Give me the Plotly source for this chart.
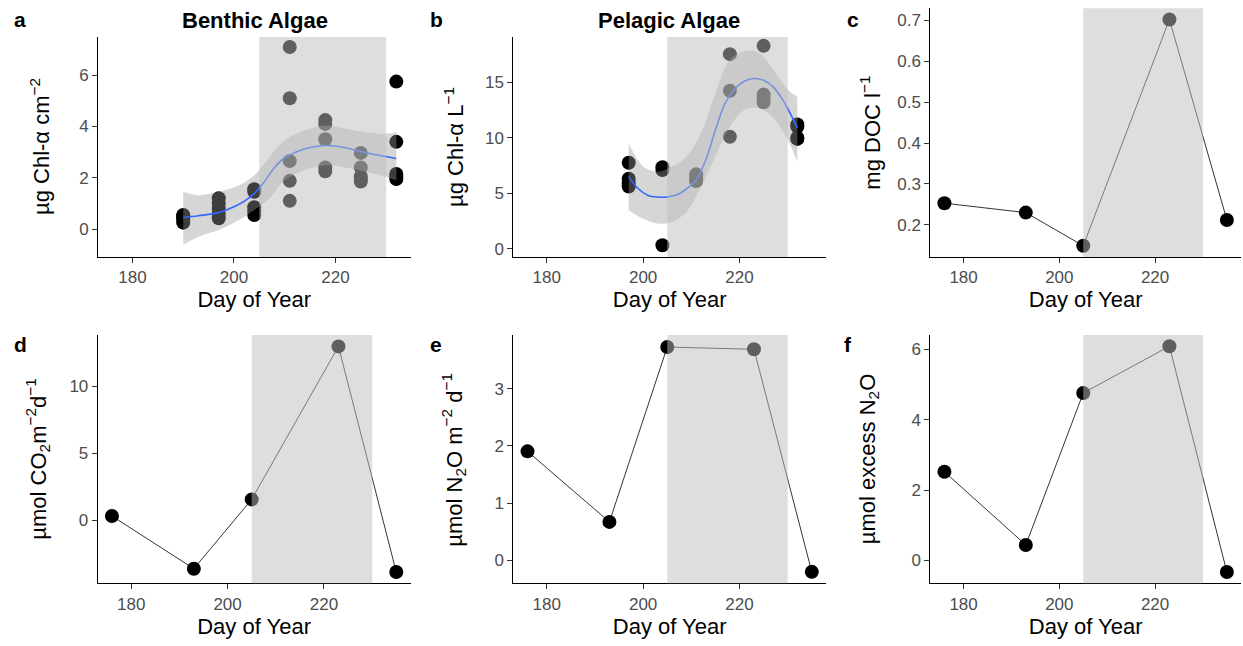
import plotly.graph_objects as go

# ---- Panel a: benthic algae chlorophyll (5 replicates per sampling day)
benthic_doy = [190] * 5 + [197] * 5 + [204] * 5 + [211] * 5 + [218] * 5 + [225] * 5 + [232] * 5
benthic_chla = [0.25, 0.35, 0.45, 0.50, 0.55,
                0.42, 0.60, 0.80, 1.00, 1.20,
                1.55, 1.45, 0.85, 0.70, 0.55,
                7.10, 5.10, 2.65, 1.88, 1.10,
                4.25, 4.10, 3.50, 2.40, 2.25,
                2.97, 2.40, 2.05, 1.95, 1.85,
                5.75, 3.40, 2.15, 2.05, 1.95]

# loess fit and 95% band for benthic algae
benthic_fit_doy = [190, 193, 197, 200, 202, 204, 206, 208, 210, 212, 214, 218, 222, 225, 228, 232]
benthic_fit = [0.45, 0.52, 0.64, 0.87, 1.08, 1.38, 1.85, 2.40, 2.78, 2.98, 3.13, 3.26, 3.17, 3.02, 2.90, 2.75]
benthic_band_doy = [190, 193, 197, 201, 204, 207, 210, 214, 218, 222, 226, 230, 232]
benthic_upper = [1.45, 1.32, 1.45, 1.71, 2.10, 2.81, 3.46, 3.85, 4.04, 3.91, 3.78, 3.72, 3.78]
benthic_lower = [-0.62, -0.30, -0.04, 0.35, 0.74, 1.19, 1.90, 2.29, 2.49, 2.40, 2.23, 2.03, 1.90]

# ---- Panel b: pelagic algae chlorophyll
pelagic_doy = [197] * 4 + [204] * 3 + [211] * 3 + [218] * 3 + [225] * 4 + [232] * 4
pelagic_chla = [7.75, 6.30, 5.90, 5.60,
                7.35, 7.10, 0.30,
                6.70, 6.30, 6.10,
                17.55, 14.25, 10.10,
                18.30, 13.90, 13.50, 13.20,
                11.20, 11.00, 10.00, 9.90]

pelagic_fit_doy = [197, 199, 201, 203, 205, 207, 209, 211, 213, 215, 217, 219, 221, 223, 225, 227, 229, 231, 232]
pelagic_fit = [6.50, 5.40, 4.80, 4.65, 4.65, 4.85, 5.40, 6.20, 8.00, 10.70, 13.10, 14.40, 15.10, 15.35, 15.20, 14.60, 13.40, 11.80, 10.90]
pelagic_band_doy = [197, 200, 203, 206, 209, 212, 215, 218, 221, 224, 227, 230, 232]
pelagic_upper = [9.50, 7.40, 6.94, 7.40, 8.30, 10.40, 14.00, 17.06, 17.80, 17.66, 16.15, 14.34, 13.70]
pelagic_lower = [3.47, 2.70, 2.26, 2.40, 3.30, 5.58, 8.30, 11.00, 12.50, 12.70, 11.80, 9.80, 7.85]

# ---- Panels c-f: single measurements per sampling day
site_doy = [176, 193, 205, 223, 235]
doc = [0.253, 0.230, 0.149, 0.702, 0.212]
co2_flux = [0.33, -3.60, 1.57, 12.99, -3.85]
n2o_flux = [1.906, 0.673, 3.73, 3.69, -0.20]
n2o_excess = [2.52, 0.44, 4.76, 6.09, -0.33]

# bloom period highlighted in every panel
bloom_start, bloom_end = 205, 230

x_ticks = [180, 200, 220]

W, H = 1243, 646
FONT = "Arial, Liberation Sans, sans-serif"


def xdom(left, right):
    return [left / W, right / W]


def ydom(top, bottom):
    return [1 - bottom / H, 1 - top / H]


panels = [
    # key, x-domain px, y-domain px, x-range, y-range, y ticks, y title, title right edge px, letter
    ("", (98, 410.5), (37, 257), [173.2, 234.8], [-1.09, 7.49], [0, 2, 4, 6],
     "µg Chl-α cm<sup>−2</sup>", 55, "a"),
    ("2", (513.3, 826), (37, 257), [173.05, 237.95], [-0.76, 19.1], [0, 5, 10, 15],
     "µg Chl-α L<sup>−1</sup>", 469, "b"),
    ("3", (930.3, 1241), (8.3, 257), [173.05, 237.95], [0.1215, 0.7295],
     [0.2, 0.3, 0.4, 0.5, 0.6, 0.7], "mg DOC l<sup>−1</sup>", 885, "c"),
    ("4", (97.7, 410.5), (335, 583.3), [173.05, 237.95], [-4.69, 13.84], [0, 5, 10],
     "µmol CO<sub>2</sub>m<sup>−2</sup>d<sup>−1</sup>", 54, "d"),
    ("5", (513.3, 826), (335, 583.3), [173.05, 237.95], [-0.40, 3.94], [0, 1, 2, 3],
     "µmol N<sub>2</sub>O m<sup>−2</sup> d<sup>−1</sup>", 470, "e"),
    ("6", (930.3, 1241), (335, 583.3), [173.05, 237.95], [-0.65, 6.41], [0, 2, 4, 6],
     "µmol excess N<sub>2</sub>O", 884, "f"),
]

letter_pos = {"a": (12, 6), "b": (428, 6), "c": (845, 6),
              "d": (12, 331), "e": (428, 331), "f": (842, 331)}

fig = go.Figure()


def add_smooth(xa, ya, pts_x, pts_y, band_x, lo, hi, fit_x, fit_y):
    fig.add_trace(go.Scatter(x=pts_x, y=pts_y, mode="markers", xaxis=xa, yaxis=ya,
                             marker=dict(size=14, color="black", line=dict(width=0))))
    fig.add_trace(go.Scatter(x=band_x, y=lo, mode="lines", xaxis=xa, yaxis=ya,
                             line=dict(width=0, shape="spline"), hoverinfo="skip"))
    fig.add_trace(go.Scatter(x=band_x, y=hi, mode="lines", xaxis=xa, yaxis=ya,
                             line=dict(width=0, shape="spline"), fill="tonexty",
                             fillcolor="rgba(153,153,153,0.4)", hoverinfo="skip"))
    fig.add_trace(go.Scatter(x=fit_x, y=fit_y, mode="lines", xaxis=xa, yaxis=ya,
                             line=dict(color="#3366FF", width=1.6, shape="spline")))


def add_series(xa, ya, xs, ys):
    fig.add_trace(go.Scatter(x=xs, y=ys, mode="lines+markers", xaxis=xa, yaxis=ya,
                             line=dict(color="black", width=0.8),
                             marker=dict(size=14, color="black", line=dict(width=0))))


add_smooth("x", "y", benthic_doy, benthic_chla, benthic_band_doy,
           benthic_lower, benthic_upper, benthic_fit_doy, benthic_fit)
add_smooth("x2", "y2", pelagic_doy, pelagic_chla, pelagic_band_doy,
           pelagic_lower, pelagic_upper, pelagic_fit_doy, pelagic_fit)
add_series("x3", "y3", site_doy, doc)
add_series("x4", "y4", site_doy, co2_flux)
add_series("x5", "y5", site_doy, n2o_flux)
add_series("x6", "y6", site_doy, n2o_excess)

layout = dict(
    width=W, height=H,
    margin=dict(l=0, r=0, t=0, b=0),
    paper_bgcolor="white", plot_bgcolor="white",
    showlegend=False,
    font=dict(family=FONT, color="black"),
)

axis_common = dict(
    showline=True, linecolor="black", linewidth=1,
    ticks="outside", ticklen=5, tickcolor="#333333", tickwidth=1,
    tickfont=dict(family=FONT, size=17, color="#4D4D4D"),
    showgrid=False, zeroline=False, automargin=False,
)

annotations = []
shapes = []
for key, (xl, xr), (yt, yb), xr_, yr_, yticks, ytitle, title_right, letter in panels:
    xa = "x" + key
    ya = "y" + key
    layout["xaxis" + key] = dict(axis_common, domain=xdom(xl, xr), range=xr_, anchor=ya,
                                 tickvals=x_ticks,
                                 title=dict(text="Day of Year", standoff=5,
                                            font=dict(family=FONT, size=22, color="black")))
    layout["yaxis" + key] = dict(axis_common, domain=ydom(yt, yb), range=yr_, anchor=xa,
                                 tickvals=yticks)
    # y-axis titles share one column per figure column
    annotations.append(dict(text=ytitle, textangle=-90, xref="paper", yref="paper",
                            x=title_right / W, y=1 - (yt + yb) / 2 / H,
                            xanchor="right", yanchor="middle", borderpad=0,
                            showarrow=False, font=dict(family=FONT, size=22, color="black")))
    # semi-transparent band marking the bloom period, drawn over the data
    shapes.append(dict(type="rect", xref=xa, yref=ya + " domain",
                       x0=bloom_start, x1=bloom_end, y0=0, y1=1,
                       fillcolor="rgba(190,190,190,0.5)", line=dict(width=0),
                       layer="above"))
    lx, ly = letter_pos[letter]
    annotations.append(dict(text="<b>%s</b>" % letter, xref="paper", yref="paper",
                            x=lx / W, y=1 - ly / H, xanchor="left", yanchor="top",
                            showarrow=False, font=dict(family=FONT, size=21, color="black")))

for text, cx in (("Benthic Algae", 254.5), ("Pelagic Algae", 669.5)):
    annotations.append(dict(text="<b>%s</b>" % text, xref="paper", yref="paper",
                            x=cx / W, y=1 - 20 / H, xanchor="center", yanchor="middle",
                            showarrow=False, font=dict(family=FONT, size=22, color="black")))

layout["shapes"] = shapes
layout["annotations"] = annotations
fig.update_layout(**layout)

fig.write_html("out.html")
